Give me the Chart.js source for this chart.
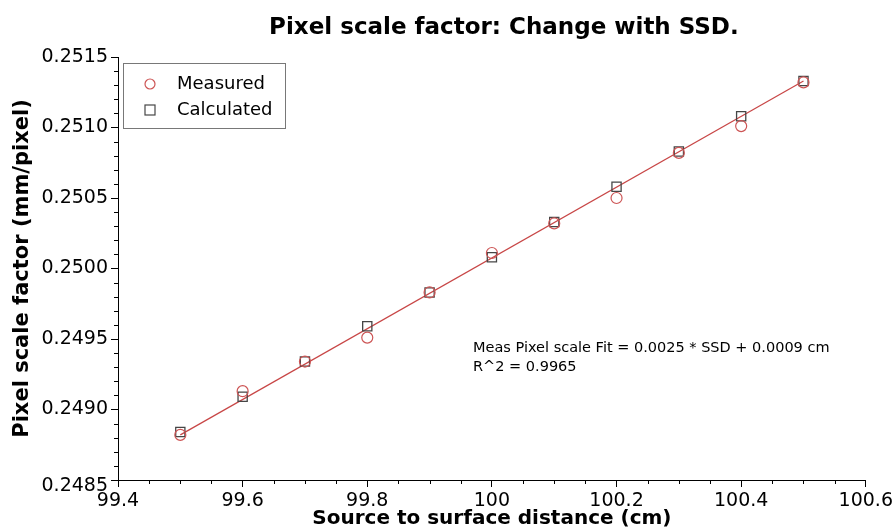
<!DOCTYPE html>
<html><head><meta charset="utf-8">
<script src="https://cdn.jsdelivr.net/npm/chart.js@4.4.1/dist/chart.umd.min.js"></script>
<style>html,body{margin:0;padding:0;background:#fff}canvas{display:block}</style>
</head><body>
<canvas id="c" width="896" height="529"></canvas>
<script>
// ---- data ----
const ssd = [99.5, 99.6, 99.7, 99.8, 99.9, 100.0, 100.1, 100.2, 100.3, 100.4, 100.5];
const measured = [0.24882, 0.24913, 0.24934, 0.24951, 0.24983, 0.25011, 0.25032, 0.25050, 0.25082, 0.25101, 0.25132];
const calculated = [0.24884, 0.24909, 0.24934, 0.24959, 0.24983, 0.25008, 0.25033, 0.25058, 0.25083, 0.25108, 0.25133];
const fitX = [99.5, 100.5];
const fitY = [0.24882, 0.25133];
const xTicks = [99.4, 99.6, 99.8, 100.0, 100.2, 100.4, 100.6];
const yTicks = [0.2485, 0.2490, 0.2495, 0.2500, 0.2505, 0.2510, 0.2515];
const xMinorStep = 0.05;
const yMinorStep = 0.0001;
const titleText = 'Pixel scale factor: Change with SSD.';
const xTitle = 'Source to surface distance (cm)';
const yTitle = 'Pixel scale factor (mm/pixel)';
const fitText = ['Meas Pixel scale Fit = 0.0025 * SSD + 0.0009 cm', 'R^2 = 0.9965'];
const seriesNames = ['Measured', 'Calculated', 'Fit'];

const RED = 'rgb(205,85,85)';
const GRAY = 'rgb(70,70,70)';
const FONT = '"DejaVu Sans", Verdana, sans-serif';
const fmtY = v => Number(v).toFixed(4);

const extras = {
  id: 'extras',
  afterDraw(chart) {
    const ctx = chart.ctx;
    const xs = chart.scales.x, ys = chart.scales.y;
    const a = chart.chartArea;
    ctx.save();
    // minor ticks
    ctx.strokeStyle = '#000';
    ctx.lineWidth = 1;
    ctx.beginPath();
    const ny = Math.round((yTicks[yTicks.length-1]-yTicks[0])/yMinorStep);
    for (let i = 0; i <= ny; i++) {
      if (i % 5 === 0) continue;
      const py = Math.round(ys.getPixelForValue(yTicks[0] + i*yMinorStep)) + 0.5;
      ctx.moveTo(a.left - 4, py); ctx.lineTo(a.left, py);
    }
    const nx = Math.round((xTicks[xTicks.length-1]-xTicks[0])/xMinorStep);
    for (let i = 0; i <= nx; i++) {
      if (i % 4 === 0) continue;
      const px = Math.round(xs.getPixelForValue(xTicks[0] + i*xMinorStep)) + 0.5;
      ctx.moveTo(px, a.bottom); ctx.lineTo(px, a.bottom + 4);
    }
    ctx.stroke();
    // bottom y label (sits slightly lower than its tick, at the axis corner)
    ctx.fillStyle = '#000';
    ctx.font = '19px ' + FONT;
    ctx.textAlign = 'right';
    ctx.textBaseline = 'middle';
    ctx.fillText(fmtY(yTicks[0]), a.left - 10, ys.getPixelForValue(yTicks[0]) + 6);
    // title
    ctx.font = 'bold 23px ' + FONT;
    ctx.textAlign = 'center';
    ctx.fillText(titleText, (a.left + a.right)/2 + 12, 28);
    // legend
    const lx = a.left + 5, ly = a.top + 6;
    ctx.lineWidth = 1;
    ctx.strokeStyle = 'rgb(120,120,120)';
    ctx.strokeRect(lx + 0.5, ly + 0.5, 162, 65);
    ctx.lineWidth = 1.2;
    ctx.strokeStyle = RED;
    ctx.beginPath(); ctx.arc(lx + 27, ly + 21, 5, 0, Math.PI*2); ctx.stroke();
    ctx.strokeStyle = GRAY;
    ctx.strokeRect(lx + 22, ly + 42, 10, 10);
    ctx.font = '18px ' + FONT;
    ctx.textAlign = 'left';
    ctx.fillText(seriesNames[0], lx + 54, ly + 21);
    ctx.fillText(seriesNames[1], lx + 54, ly + 47);
    // fit annotation
    ctx.font = '14.5px ' + FONT;
    ctx.fillText(fitText[0], a.left + 355, a.top + 291);
    ctx.fillText(fitText[1], a.left + 355, a.top + 310);
    ctx.restore();
  }
};

new Chart(document.getElementById('c'), {
  type: 'scatter',
  data: {
    datasets: [
      { label: seriesNames[2], data: fitX.map((x,i)=>({x, y: fitY[i]})), showLine: true,
        borderColor: 'rgb(200,70,70)', borderWidth: 1.2, pointRadius: 0, order: 3 },
      { label: seriesNames[1], data: ssd.map((x,i)=>({x, y: calculated[i]})), pointStyle: 'rect',
        pointRadius: 6.5, borderColor: GRAY, borderWidth: 1.3, backgroundColor: 'rgba(0,0,0,0)', order: 2 },
      { label: seriesNames[0], data: ssd.map((x,i)=>({x, y: measured[i]})), pointStyle: 'circle',
        pointRadius: 5.5, borderColor: RED, borderWidth: 1.2, backgroundColor: 'rgba(0,0,0,0)', order: 1 }
    ]
  },
  options: {
    responsive: false,
    animation: false,
    devicePixelRatio: 1,
    layout: { padding: { top: 57, right: 27, left: 0, bottom: 0 } },
    plugins: { legend: { display: false }, tooltip: { enabled: false }, title: { display: false } },
    scales: {
      x: {
        type: 'linear', min: xTicks[0], max: xTicks[xTicks.length-1],
        afterBuildTicks: s => { s.ticks = xTicks.map(v => ({ value: v })); },
        afterFit: s => { s.height = 49; },
        ticks: { color: '#000', font: { family: FONT, size: 19 }, padding: 3, maxRotation: 0,
          callback: v => String(Math.round(v*10)/10) },
        grid: { drawOnChartArea: false, color: '#000', tickLength: 7 },
        border: { color: '#000', width: 1 },
        title: { display: true, text: xTitle, color: '#000', font: { family: FONT, size: 20, weight: 'bold' }, padding: { top: 0, bottom: -2 } }
      },
      y: {
        type: 'linear', min: yTicks[0], max: yTicks[yTicks.length-1],
        afterBuildTicks: s => { s.ticks = yTicks.map(v => ({ value: v })); },
        afterFit: s => { s.width = 118; },
        ticks: { color: '#000', font: { family: FONT, size: 19 }, padding: 3,
          callback: v => (Math.abs(v - yTicks[0]) < 1e-9 ? '' : fmtY(v)) },
        grid: { drawOnChartArea: false, color: '#000', tickLength: 7 },
        border: { color: '#000', width: 1 },
        title: { display: true, text: yTitle, color: '#000', font: { family: FONT, size: 21, weight: 'bold' }, padding: { top: 10, bottom: 0 } }
      }
    }
  },
  plugins: [extras]
});
</script>
</body></html>
